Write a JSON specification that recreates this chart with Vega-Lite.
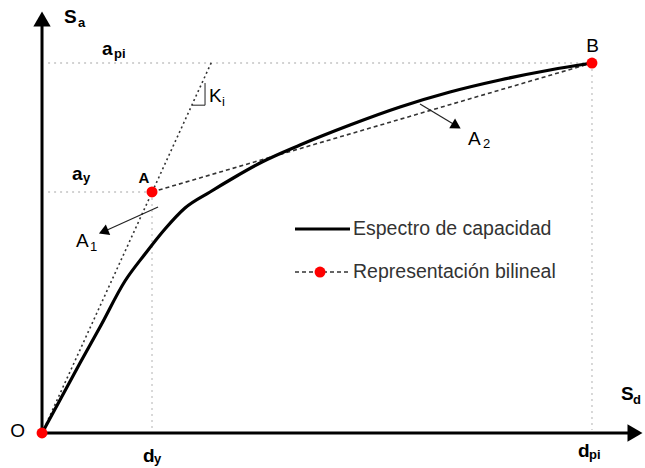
{
  "$schema": "https://vega.github.io/schema/vega-lite/v6.json",
  "width": 645,
  "height": 468,
  "padding": 0,
  "autosize": {"type": "fit", "contains": "padding"},
  "background": "white",
  "config": {"view": {"stroke": null}, "text": {"font": "Liberation Sans"}},
  "datasets": {
    "grid": [
      {"sd": 0.011, "sa": 1, "sd2": 1, "sa2": 1},
      {"sd": 0.011, "sa": 0.6514, "sd2": 0.2, "sa2": 0.6514},
      {"sd": 0.2, "sa": 0.6514, "sd2": 0.2, "sa2": 0.008},
      {"sd": 1, "sa": 1, "sd2": 1, "sa2": 0.008}
    ],
    "axes": [
      {"sd": 0, "sa": 0, "sd2": 0, "sa2": 1.1},
      {"sd": 0, "sa": 0, "sd2": 1.07, "sa2": 0}
    ],
    "ki": [{"sd": 0, "sa": 0, "sd2": 0.309, "sa2": 1.005}],
    "kimark": [
      {"sd": 0.2964, "sa": 0.886, "sd2": 0.2964, "sa2": 0.946},
      {"sd": 0.273, "sa": 0.886, "sd2": 0.2964, "sa2": 0.886}
    ],
    "bilinear": [
      {"sd": 0.2, "sa": 0.6514, "sd2": 1, "sa2": 1},
      {"sd": 0.46, "sa": 0.4351, "sd2": 0.56, "sa2": 0.4351}
    ],
    "legendsolid": [{"sd": 0.46, "sa": 0.5514, "sd2": 0.56, "sa2": 0.5514}],
    "curve": [
      {"sd": 0, "sa": 0},
      {"sd": 0.0327, "sa": 0.0892},
      {"sd": 0.0691, "sa": 0.1892},
      {"sd": 0.1055, "sa": 0.2865},
      {"sd": 0.1509, "sa": 0.4108},
      {"sd": 0.1873, "sa": 0.4838},
      {"sd": 0.2236, "sa": 0.5514},
      {"sd": 0.26, "sa": 0.6081},
      {"sd": 0.3055, "sa": 0.6514},
      {"sd": 0.3509, "sa": 0.6919},
      {"sd": 0.4, "sa": 0.7324},
      {"sd": 0.4691, "sa": 0.7784},
      {"sd": 0.56, "sa": 0.8324},
      {"sd": 0.6509, "sa": 0.8811},
      {"sd": 0.7418, "sa": 0.9216},
      {"sd": 0.8327, "sa": 0.9541},
      {"sd": 0.9236, "sa": 0.9811},
      {"sd": 1, "sa": 1}
    ],
    "arrowlines": [
      {"sd": 0.211, "sa": 0.6108, "sd2": 0.1145, "sa2": 0.5459},
      {"sd": 0.6873, "sa": 0.8892, "sd2": 0.7509, "sa2": 0.8324}
    ],
    "head1": [{"sd": 0.1145, "sa": 0.5459}],
    "head2": [{"sd": 0.7509, "sa": 0.8324}],
    "yhead": [{"sd": 0, "sa": 1.1189}],
    "xhead": [{"sd": 1.0782, "sa": 0}],
    "dots": [
      {"sd": 0, "sa": 0},
      {"sd": 0.2, "sa": 0.6514},
      {"sd": 1, "sa": 1},
      {"sd": 0.5055, "sa": 0.4351}
    ],
    "bigbold": [
      {"sd": 0.04, "sa": 1.1081, "t": "S"},
      {"sd": 0.1091, "sa": 1.0216, "t": "a"},
      {"sd": 0.0545, "sa": 0.6838, "t": "a"},
      {"sd": 1.0527, "sa": 0.0892, "t": "S"},
      {"sd": 0.1836, "sa": -0.0784, "t": "d"},
      {"sd": 0.9745, "sa": -0.0649, "t": "d"}
    ],
    "subbold": [
      {"sd": 0.0655, "sa": 1.0973, "t": "a"},
      {"sd": 0.1309, "sa": 1.0135, "t": "pi"},
      {"sd": 0.0745, "sa": 0.6784, "t": "y"},
      {"sd": 1.0745, "sa": 0.0784, "t": "d"},
      {"sd": 0.2036, "sa": -0.0811, "t": "y"},
      {"sd": 0.9945, "sa": -0.0703, "t": "pi"}
    ],
    "bigreg": [
      {"sd": 0.0618, "sa": 0.5027, "t": "A"},
      {"sd": 0.7745, "sa": 0.7784, "t": "A"},
      {"sd": 0.3036, "sa": 0.8946, "t": "K"}
    ],
    "subreg": [
      {"sd": 0.0873, "sa": 0.4919, "t": "1"},
      {"sd": 0.8018, "sa": 0.7703, "t": "2"},
      {"sd": 0.3273, "sa": 0.8838, "t": "i"}
    ],
    "pointlabels": [
      {"sd": -0.0445, "sa": -0.0108, "t": "O"},
      {"sd": 1.0009, "sa": 1.0297, "t": "B"}
    ],
    "alabel": [{"sd": 0.1855, "sa": 0.6757, "t": "A"}],
    "legendtext": [
      {"sd": 0.5655, "sa": 0.5351, "t": "Espectro de capacidad"},
      {"sd": 0.5655, "sa": 0.4189, "t": "Representación bilineal"}
    ]
  },
  "encoding": {
    "x": {"field": "sd", "type": "quantitative", "scale": {"domain": [-0.0764, 1.0964], "nice": false, "zero": false}, "axis": null},
    "y": {"field": "sa", "type": "quantitative", "scale": {"domain": [-0.0946, 1.1703], "nice": false, "zero": false}, "axis": null}
  },
  "layer": [
    {"data": {"name": "grid"}, "mark": {"type": "rule", "color": "#c4c4c4", "strokeWidth": 1.3, "strokeDash": [2, 4]},
     "encoding": {"x2": {"field": "sd2"}, "y2": {"field": "sa2"}}},
    {"data": {"name": "ki"}, "mark": {"type": "rule", "color": "#333333", "strokeWidth": 1.6, "strokeDash": [2, 3]},
     "encoding": {"x2": {"field": "sd2"}, "y2": {"field": "sa2"}}},
    {"data": {"name": "kimark"}, "mark": {"type": "rule", "color": "#333333", "strokeWidth": 1.1},
     "encoding": {"x2": {"field": "sd2"}, "y2": {"field": "sa2"}}},
    {"data": {"name": "bilinear"}, "mark": {"type": "rule", "color": "#333333", "strokeWidth": 1.6, "strokeDash": [4, 3]},
     "encoding": {"x2": {"field": "sd2"}, "y2": {"field": "sa2"}}},
    {"data": {"name": "curve"}, "mark": {"type": "line", "color": "black", "strokeWidth": 3.2, "interpolate": "monotone"},
     "encoding": {}},
    {"data": {"name": "legendsolid"}, "mark": {"type": "rule", "color": "black", "strokeWidth": 3.2},
     "encoding": {"x2": {"field": "sd2"}, "y2": {"field": "sa2"}}},
    {"data": {"name": "axes"}, "mark": {"type": "rule", "color": "black", "strokeWidth": 3},
     "encoding": {"x2": {"field": "sd2"}, "y2": {"field": "sa2"}}},
    {"data": {"name": "yhead"}, "mark": {"type": "point", "shape": "triangle-up", "filled": true, "color": "black", "size": 300, "opacity": 1}},
    {"data": {"name": "xhead"}, "mark": {"type": "point", "shape": "triangle-right", "filled": true, "color": "black", "size": 300, "opacity": 1}},
    {"data": {"name": "arrowlines"}, "mark": {"type": "rule", "color": "#222222", "strokeWidth": 1.2},
     "encoding": {"x2": {"field": "sd2"}, "y2": {"field": "sa2"}}},
    {"data": {"name": "head1"}, "mark": {"type": "point", "shape": "triangle", "angle": 247.5, "filled": true, "color": "black", "size": 130, "opacity": 1}},
    {"data": {"name": "head2"}, "mark": {"type": "point", "shape": "triangle", "angle": 120.7, "filled": true, "color": "black", "size": 130, "opacity": 1}},
    {"data": {"name": "dots"}, "mark": {"type": "circle", "color": "#ff0000", "size": 120, "opacity": 1}},
    {"data": {"name": "bigbold"}, "mark": {"type": "text", "align": "left", "baseline": "alphabetic", "fontSize": 19, "fontWeight": "bold", "color": "black"},
     "encoding": {"text": {"field": "t"}}},
    {"data": {"name": "subbold"}, "mark": {"type": "text", "align": "left", "baseline": "alphabetic", "fontSize": 13, "fontWeight": "bold", "color": "black"},
     "encoding": {"text": {"field": "t"}}},
    {"data": {"name": "bigreg"}, "mark": {"type": "text", "align": "left", "baseline": "alphabetic", "fontSize": 19, "color": "black"},
     "encoding": {"text": {"field": "t"}}},
    {"data": {"name": "subreg"}, "mark": {"type": "text", "align": "left", "baseline": "alphabetic", "fontSize": 13, "color": "black"},
     "encoding": {"text": {"field": "t"}}},
    {"data": {"name": "pointlabels"}, "mark": {"type": "text", "align": "center", "baseline": "alphabetic", "fontSize": 19, "color": "black"},
     "encoding": {"text": {"field": "t"}}},
    {"data": {"name": "alabel"}, "mark": {"type": "text", "align": "center", "baseline": "alphabetic", "fontSize": 15, "fontWeight": "bold", "color": "black"},
     "encoding": {"text": {"field": "t"}}},
    {"data": {"name": "legendtext"}, "mark": {"type": "text", "align": "left", "baseline": "alphabetic", "fontSize": 19.5, "color": "#333333"},
     "encoding": {"text": {"field": "t"}}}
  ]
}
